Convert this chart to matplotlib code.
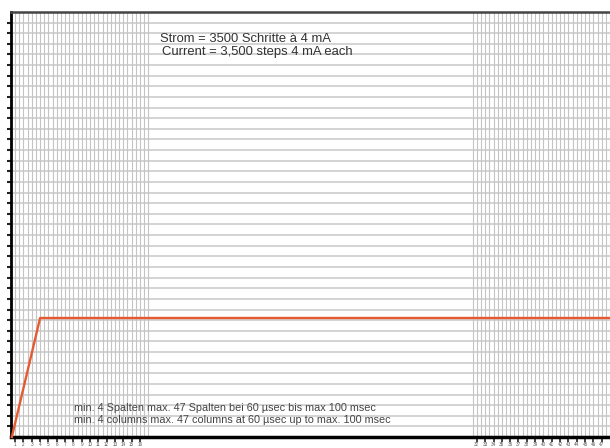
import numpy as np
import matplotlib
matplotlib.use("Agg")
import matplotlib.pyplot as plt

plt.rcParams['font.family'] = ['Liberation Sans', 'DejaVu Sans']

# ---------------------------
# Data
# ---------------------------
# current profile (x in columns, y in grid rows)
ramp_x = [0.1, 3.5, 72]
ramp_y = [0, 11.2, 11.2]

# column ticks: first block and last block
left_cols = list(range(1, 17))
right_cols = list(range(32, 48))
left_tick_pos = [c - 0.5 for c in left_cols]
right_tick_pos = [c + 24 for c in right_cols]

title_de = "Strom = 3500 Schritte à 4 mA"
title_en = "Current = 3,500 steps 4 mA each"
note_de = "min. 4 Spalten max. 47 Spalten bei 60 µsec bis max 100 msec"
note_en = "min. 4 columns max. 47 columns at 60 µsec up to max. 100 msec"

# ---------------------------
# Figure
# ---------------------------
fig = plt.figure(figsize=(6.10, 4.48), dpi=100)
ax = fig.add_axes([11 / 610, 11 / 448, 599 / 610, 425 / 448])
ax.set_xlim(0, 72)
ax.set_ylim(0, 40)

grid_c = "#c4c4c4"
# horizontal grid
for y in range(1, 40):
    ax.axhline(y, color="#c8c8c8", lw=1.1, zorder=1)
# vertical grid in the two dense blocks
for x in np.arange(0.5, 16.6, 0.5):
    ax.axvline(x, color=grid_c, lw=0.8, zorder=1)
for x in np.arange(55.5, 72.1, 0.5):
    ax.axvline(x, color=grid_c, lw=0.8, zorder=1)

ax.plot(ramp_x, ramp_y, color="#e65a32", lw=1.7, zorder=3, clip_on=False)

ax.text(17.9, 37.5, title_de, fontsize=9.4, color="#333333", va="center")
ax.text(18.2, 36.2, title_en, fontsize=9.4, color="#333333", va="center")
ax.text(7.6, 2.75, note_de, fontsize=7.8, color="#444444", va="center")
ax.text(7.6, 1.6, note_en, fontsize=7.8, color="#444444", va="center")

# spines
ax.spines["right"].set_visible(False)
ax.spines["left"].set_linewidth(2)
ax.spines["bottom"].set_linewidth(2.5)
ax.spines["top"].set_linewidth(1.8)
ax.spines["top"].set_color("#444444")

ax.set_yticks(range(1, 40))
ax.set_yticklabels([])
ax.tick_params(axis="y", length=3, width=1.5, color="#222222", direction="out")

ax.set_xticks(left_tick_pos + right_tick_pos)
ax.set_xticklabels([str(c) for c in left_cols + right_cols])
ax.tick_params(axis="x", length=3.5, width=1.2, color="#222222", direction="out",
               labelsize=3.3, labelcolor="#555555", pad=0)

fig.savefig("out.png", dpi=100)
